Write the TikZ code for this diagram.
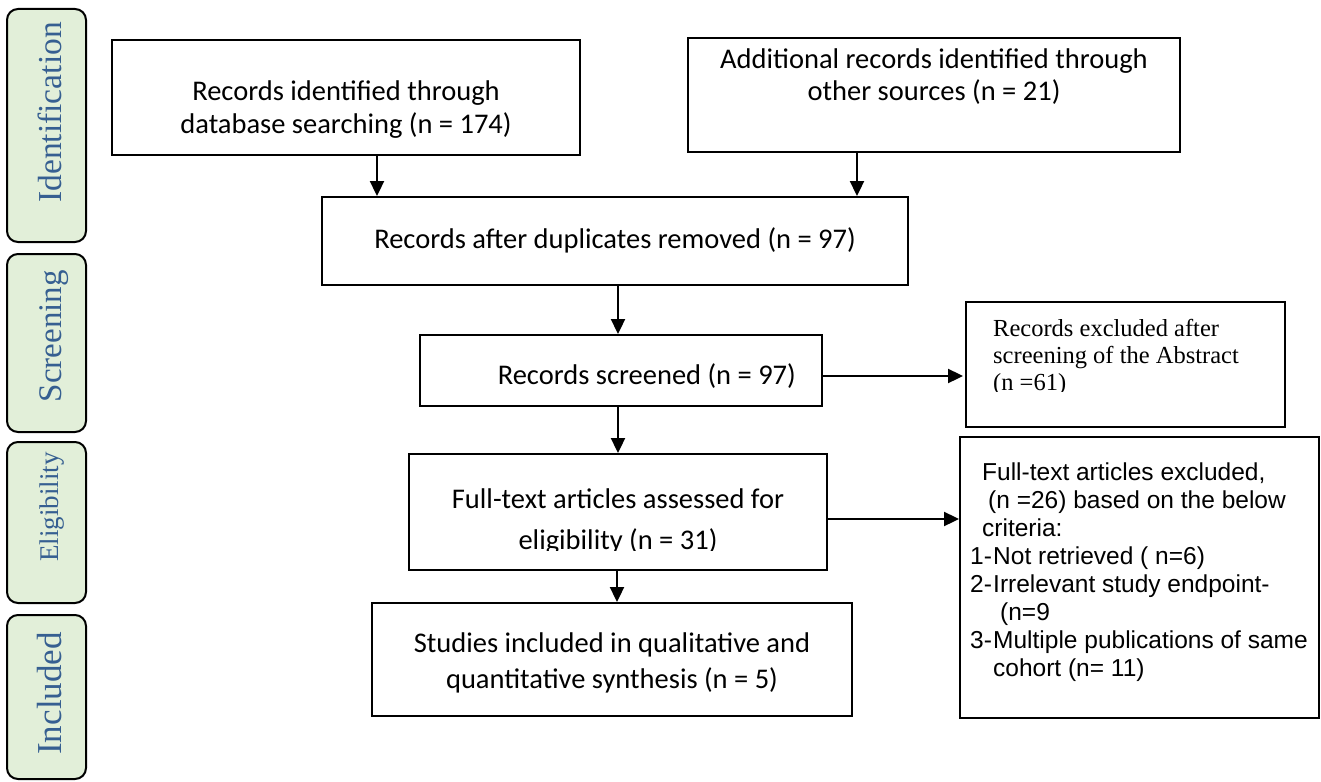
\documentclass[tikz,border=0pt]{standalone}
\usepackage{fontspec}
\usetikzlibrary{arrows.meta}
\newfontfamily\calibrif{Carlito}
\newfontfamily\timesf{Liberation Serif}
\newfontfamily\arialf{Liberation Sans}
\definecolor{sidefill}{HTML}{E2EFD9}
\definecolor{sidetext}{HTML}{365F91}
\begin{document}
\begin{tikzpicture}[x=1pt,y=-1pt,
  box/.style={draw=black, line width=1.9pt, fill=white, inner sep=0pt, rectangle},
  side/.style={draw=black, line width=2pt, fill=sidefill, rounded corners=11pt, inner sep=0pt, rectangle},
  sidelabel/.style={text=sidetext, rotate=90, anchor=base east, inner sep=0pt},
  mtext/.style={font=\calibrif\fontsize{28.5}{34}\selectfont, inner sep=0pt, anchor=base},
  ttext/.style={font=\timesf\fontsize{24.5}{27}\selectfont, inner sep=0pt, anchor=base west},
  atext/.style={font=\arialf\fontsize{24.5}{28}\selectfont, inner sep=0pt, anchor=base west},
  arr/.style={line width=2pt, -{Triangle[length=15pt,width=14pt]}}
]
\useasboundingbox (0,0) rectangle (1321,781);

% side phase boxes
\node[side, minimum width=79pt, minimum height=233pt] (s1) at (46.5,125.5) {};
\node[side, minimum width=79pt, minimum height=178pt] (s2) at (46.5,343) {};
\node[side, minimum width=79pt, minimum height=161pt] (s3) at (46.5,522.5) {};
\node[side, minimum width=79pt, minimum height=164pt] (s4) at (46.5,697) {};
\node[sidelabel, font=\timesf\fontsize{33.5}{36}\selectfont] (l1) at (61,22) {Identification};
\node[sidelabel, font=\timesf\fontsize{33}{36}\selectfont] (l2) at (61,270) {Screening};
\node[sidelabel, font=\timesf\fontsize{27}{30}\selectfont] (l3) at (58.5,452) {Eligibility};
\node[sidelabel, font=\timesf\fontsize{35}{38}\selectfont] (l4) at (61.5,632) {Included};

% main boxes
\node[box, minimum width=468pt, minimum height=115pt] (b1) at (346,97.5) {};
\node[box, minimum width=492pt, minimum height=114pt] (b2) at (934,95) {};
\node[box, minimum width=586pt, minimum height=88pt] (b3) at (615,241) {};
\node[box, minimum width=402pt, minimum height=71pt] (b4) at (621,370.5) {};
\node[box, minimum width=319pt, minimum height=125pt] (b6) at (1125.5,364.5) {};
\node[box, minimum width=418pt, minimum height=116pt] (b7) at (618,512) {};
\node[box, minimum width=359pt, minimum height=281pt] (b8) at (1139.5,577.5) {};
\node[box, minimum width=480pt, minimum height=113pt] (b5) at (612,659.5) {};

% texts
\node[mtext] (t1a) at (346,101) {Records identified through};
\node[mtext] (t1b) at (346,133) {database searching (n = 174)};
\node[mtext] (t2a) at (934,69) {Additional records identified through};
\node[mtext] (t2b) at (934,101) {other sources (n = 21)};
\node[mtext] (t3) at (615,248) {Records after duplicates removed (n = 97)};
\node[mtext, anchor=base east] (t4) at (796,384) {Records screened (n = 97)};
\begin{scope}
  \clip (966,302) rectangle (1285,391);
  \node[ttext] (t6a) at (993,336) {Records excluded after};
  \node[ttext] (t6b) at (993,363) {screening of the Abstract};
  \node[ttext] (t6c) at (993,390) {(n =61)};
\end{scope}
\begin{scope}
  \clip (409,454) rectangle (827,550);
  \node[mtext] (t7a) at (618,508) {Full-text articles assessed for};
  \node[mtext] (t7b) at (618,549) {eligibility (n = 31)};
\end{scope}
\node[mtext] (t5a) at (612,652) {Studies included in qualitative and};
\node[mtext] (t5b) at (612,688) {quantitative synthesis (n = 5)};

\node[atext] (t8a) at (982,480) {Full-text articles excluded,};
\node[atext] (t8b) at (988,508) {(n =26) based on the below};
\node[atext] (t8c) at (982,536) {criteria:};
\node[atext] (t8d) at (970,564) {\makebox[23pt][l]{1-}Not retrieved ( n=6)};
\node[atext] (t8e) at (970,592) {\makebox[23pt][l]{2-}Irrelevant study endpoint-};
\node[atext] (t8f) at (1000,620) {(n=9};
\node[atext] (t8g) at (970,648) {\makebox[23pt][l]{3-}Multiple publications of same};
\node[atext] (t8h) at (993,676) {cohort (n= 11)};

% connectors
\draw[arr] ([xshift=31pt]b1.south) -- ([xshift=31pt]b1.south |- b3.north);
\draw[arr] ([xshift=-77pt]b2.south) -- ([xshift=-77pt]b2.south |- b3.north);
\draw[arr] ([xshift=3pt]b3.south) -- ([xshift=3pt]b3.south |- b4.north);
\draw[arr, shorten >=2pt] ([yshift=-5.5pt]b4.east) -- ([yshift=-5.5pt]b4.east -| b6.west);
\draw[arr] ([xshift=-3pt]b4.south) -- ([xshift=-3pt]b4.south |- b7.north);
\draw[arr] ([yshift=-7pt]b7.east) -- ([yshift=-7pt]b7.east -| b8.west);
\draw[arr] ([xshift=-1pt]b7.south) -- ([xshift=-1pt]b7.south |- b5.north);
\end{tikzpicture}
\end{document}
